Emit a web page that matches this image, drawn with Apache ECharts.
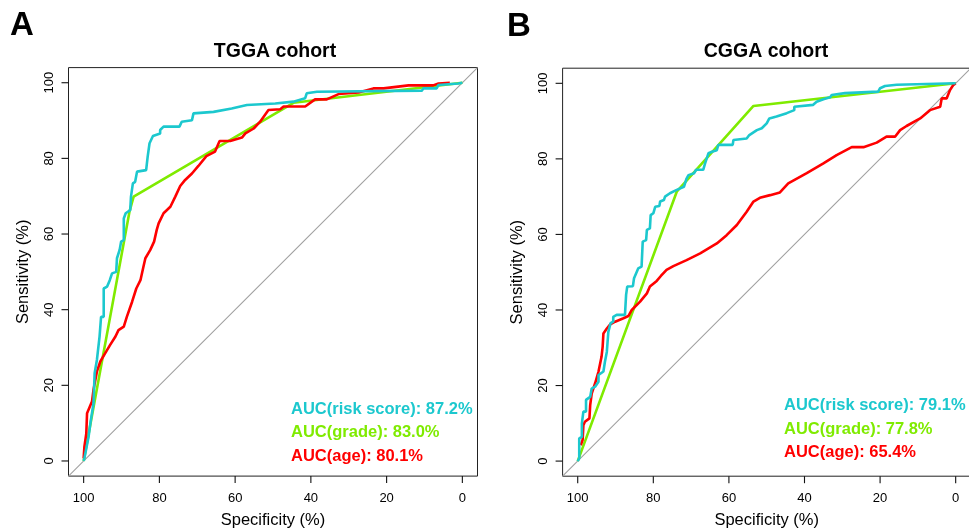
<!DOCTYPE html>
<html>
<head>
<meta charset="utf-8">
<script src="https://cdn.jsdelivr.net/npm/echarts@6/dist/echarts.min.js"></script>
<style>html,body{margin:0;padding:0;background:#fff}#c{width:969px;height:529px}</style>
</head>
<body>
<div id="c"></div>
<script>
// ---- data (specificity %, sensitivity %) ----
const tickValues = [0, 20, 40, 60, 80, 100];
const AXIS_MIN = -4;
const AXIS_MAX = 104;

const tggaRisk = [[100,0],[99.8,0.7],[98.7,6.4],[98.1,10.8],[97.4,15.2],[97.1,23.2],[96.5,26.7],[95.8,32.9],[95.4,38.1],[94.7,38.1],[94.7,45.6],[93.8,46.1],[93.1,47.8],[92.5,49.6],[91.4,50.0],[91.2,53.6],[90.5,55.8],[90.1,58.0],[89.4,58.4],[89.4,64.1],[88.9,65.5],[87.7,66.3],[87.5,69.9],[87.0,73.4],[86.4,73.8],[85.9,76.5],[83.5,76.9],[83.1,80.4],[82.6,84.0],[81.7,85.9],[79.8,86.6],[79.8,87.5],[78.9,88.4],[74.7,88.4],[74.1,89.7],[71.4,90.1],[71.0,91.9],[65.7,92.3],[65.7,92.8],[60.9,93.2],[60.4,93.7],[56.9,94.1],[49.4,94.5],[44.6,95.0],[44.2,95.4],[41.5,95.9],[41.1,97.2],[38.4,97.6],[38.0,97.9],[10.7,97.9],[10.3,98.5],[6.8,98.5],[6.3,99.4],[1.1,99.8],[0,100]];
const tggaGrade = [[100,0],[87.9,65.9],[86.8,69.9],[44.6,94.7],[0,100]];
const tggaAge = [[100,0.7],[99.8,3.8],[99.3,7.3],[99.1,12.6],[97.8,15.7],[97.4,18.8],[96.5,23.6],[95.6,26.3],[94.3,28.5],[93.0,30.7],[91.6,32.9],[90.8,34.6],[89.4,35.5],[88.6,38.1],[87.2,42.1],[86.1,45.6],[85.0,47.8],[84.2,51.4],[83.7,53.6],[82.4,55.8],[81.4,58.0],[80.7,61.1],[80.2,62.8],[78.9,65.5],[77.1,67.2],[75.8,69.9],[74.5,72.7],[73.2,74.3],[71.4,76.0],[69.7,78.0],[67.6,80.6],[65.3,81.8],[64.1,84.6],[61.3,84.6],[58.2,85.5],[57.3,86.6],[55.1,87.9],[53.4,89.7],[51.2,92.8],[48.1,93.0],[47.2,93.7],[41.5,93.7],[38.9,95.6],[35.8,95.6],[32.7,97.0],[27.4,97.4],[23.5,98.5],[20.8,98.5],[14.2,99.3],[7.7,99.3],[6.3,99.8],[3.3,100]];

const cggaRisk = [[100,0],[99.6,0.7],[99.6,6.0],[98.9,6.4],[98.9,10.0],[98.5,13.1],[97.8,13.1],[97.8,16.2],[96.7,17.0],[96.3,19.2],[95.4,19.7],[94.5,21.0],[94.5,22.8],[93.2,23.7],[92.8,26.3],[92.3,28.9],[91.9,29.4],[91.9,34.2],[91.3,36.5],[90.6,36.9],[90.6,38.2],[89.7,38.7],[87.5,38.7],[87.2,44.0],[86.9,46.2],[85.4,46.3],[85.1,48.4],[84.0,51.0],[83.1,51.5],[82.8,58.1],[81.9,58.5],[81.7,61.2],[80.9,61.6],[80.7,65.1],[80.0,65.6],[79.5,67.3],[78.4,67.5],[78.2,68.7],[77.2,69.1],[76.9,70.0],[75.6,70.9],[73.8,71.8],[71.9,72.6],[71.2,74.8],[70.7,75.7],[69.2,76.2],[68.7,77.1],[66.8,77.1],[66.3,78.8],[65.9,79.3],[65.4,81.5],[64.5,81.9],[63.2,82.3],[62.8,83.7],[59.0,83.7],[58.8,85.0],[55.3,85.4],[54.6,86.3],[52.6,87.6],[51.3,88.1],[50.0,89.4],[49.3,90.7],[47.4,91.2],[46.9,91.6],[44.7,92.1],[42.7,92.9],[42.7,93.8],[37.7,94.3],[36.8,95.1],[35.0,95.8],[33.2,96.3],[32.8,96.9],[29.3,97.4],[29.3,97.8],[20.5,97.8],[20.0,98.7],[18.7,99.3],[15.6,99.6],[15.2,100],[0,100]];
const cggaGrade = [[100,0],[73.8,71.3],[53.5,94.0],[0,100]];
const cggaAge = [[99.2,4.2],[98.7,5.6],[98.5,9.5],[98.1,10.4],[96.9,11.3],[96.7,14.8],[96.3,17.9],[95.4,20.6],[94.5,23.7],[93.7,27.6],[93.4,30.3],[93.2,33.8],[92.3,35.1],[91.4,36.2],[90.1,36.9],[87.9,37.8],[86.6,38.4],[85.7,40.0],[83.5,42.2],[81.7,44.4],[80.9,46.2],[79.1,47.7],[78.0,49.0],[76.5,50.6],[74.7,51.6],[71.2,53.2],[67.6,55.0],[63.2,57.6],[60.6,59.8],[57.9,62.5],[55.3,66.0],[53.5,68.7],[51.8,69.7],[49.1,70.4],[46.5,71.1],[44.3,73.5],[39.4,76.2],[35.0,78.8],[31.5,81.0],[27.5,83.1],[24.4,83.1],[20.9,84.3],[18.3,85.9],[16.0,85.9],[14.7,87.6],[13.0,88.7],[9.4,90.7],[6.8,92.9],[4.1,93.8],[3.7,96.0],[2.4,96.0],[1.5,98.2],[0.6,99.6],[0,100]];

// reference diagonal (chance line), spans the whole plot box
const diagonal = [[AXIS_MAX, AXIS_MIN], [AXIS_MIN, AXIS_MAX]];

const panelTitles = ['TGGA cohort', 'CGGA cohort'];
const panelLetters = ['A', 'B'];
const aucLabelsA = ['AUC(risk score): 87.2%', 'AUC(grade): 83.0%', 'AUC(age): 80.1%'];
const aucLabelsB = ['AUC(risk score): 79.1%', 'AUC(grade): 77.8%', 'AUC(age): 65.4%'];
const xName = 'Specificity (%)';
const yName = 'Sensitivity (%)';

// ---- styling ----
const COL_RISK = '#1CC8CE';
const COL_GRADE = '#7FEB00';
const COL_AGE = '#FF0000';
const FONT = 'Liberation Sans, Arial, Helvetica, sans-serif';
const TICK_LEN = 7;

const grids = [
  {left: 68.5, top: 67.6, width: 409, height: 408.5},
  {left: 562.6, top: 68.2, width: 408.2, height: 408}
];

function xAxisFor(i) {
  return {
    gridIndex: i, type: 'value', inverse: true, min: AXIS_MIN, max: AXIS_MAX,
    name: xName, nameLocation: 'middle', nameGap: 36,
    nameTextStyle: {fontFamily: FONT, fontSize: 16.5, color: '#000'},
    axisLine: {show: false, onZero: false},
    axisTick: {show: false},
    axisLabel: {show: true, customValues: tickValues, margin: 16, fontFamily: FONT, fontSize: 13, color: '#000'},
    splitLine: {show: false}
  };
}
function yAxisFor(i) {
  return {
    gridIndex: i, type: 'value', min: AXIS_MIN, max: AXIS_MAX,
    name: yName, nameLocation: 'middle', nameGap: 37,
    nameTextStyle: {fontFamily: FONT, fontSize: 16.5, color: '#000'},
    axisLine: {show: false, onZero: false},
    axisTick: {show: false},
    axisLabel: {show: true, rotate: 90, customValues: tickValues, margin: 13, fontFamily: FONT, fontSize: 13, color: '#000'},
    splitLine: {show: false}
  };
}
function lineSeries(i, data, color, width, z) {
  return {
    type: 'line', xAxisIndex: i, yAxisIndex: i, data: data,
    showSymbol: false, symbol: 'none', smooth: false, silent: true, animation: false,
    lineStyle: {color: color, width: width}, z: z, clip: true
  };
}
// outward tick marks at the plot-box edges, placed through the axes' own scales
function tickSeries(i, dir) {
  return {
    type: 'custom', xAxisIndex: i, yAxisIndex: i, clip: false, silent: true, animation: false, z: 6,
    data: tickValues.map(v => dir === 'x' ? [v, AXIS_MIN] : [AXIS_MAX, v]),
    renderItem: function (params, api) {
      const p = api.coord([api.value(0), api.value(1)]);
      const shape = dir === 'x'
        ? {x1: p[0], y1: p[1], x2: p[0], y2: p[1] + TICK_LEN}
        : {x1: p[0] - TICK_LEN, y1: p[1], x2: p[0], y2: p[1]};
      return {type: 'line', shape: shape, style: {stroke: '#111', lineWidth: 1.1}};
    }
  };
}

const series = [];
[[tggaRisk, tggaGrade, tggaAge], [cggaRisk, cggaGrade, cggaAge]].forEach((set, i) => {
  series.push(lineSeries(i, diagonal, '#A0A0A0', 1.1, 1));
  series.push(lineSeries(i, set[1], COL_GRADE, 2.6, 2));
  series.push(lineSeries(i, set[2], COL_AGE, 2.6, 3));
  series.push(lineSeries(i, set[0], COL_RISK, 2.6, 4));
  series.push(tickSeries(i, 'x'));
  series.push(tickSeries(i, 'y'));
});

function txt(x, y, s, color, size, weight, align) {
  return {type: 'text', x: x, y: y, silent: true,
    style: {text: s, fill: color, fontFamily: FONT, fontSize: size, fontWeight: weight, align: align || 'left', verticalAlign: 'middle'}};
}
const cols = [COL_RISK, COL_GRADE, COL_AGE];
const graphics = [
  txt(10, 26, panelLetters[0], '#000', 33, 'bold'),
  txt(507, 27, panelLetters[1], '#000', 33, 'bold'),
  txt(275, 52, panelTitles[0], '#000', 19.5, 'bold', 'center'),
  txt(766, 52, panelTitles[1], '#000', 19.5, 'bold', 'center')
];
[409, 432.5, 456].forEach((y, k) => graphics.push(txt(291, y, aucLabelsA[k], cols[k], 16.5, 'bold')));
[405, 429, 452].forEach((y, k) => graphics.push(txt(784, y, aucLabelsB[k], cols[k], 16.5, 'bold')));

const chart = echarts.init(document.getElementById('c'), null, {renderer: 'canvas'});
chart.setOption({
  animation: false,
  grid: grids.map(g => Object.assign({show: true, borderColor: '#222', borderWidth: 1, containLabel: false, outerBoundsMode: 'none'}, g)),
  xAxis: [xAxisFor(0), xAxisFor(1)],
  yAxis: [yAxisFor(0), yAxisFor(1)],
  series: series,
  graphic: graphics
});
</script>
</body>
</html>
